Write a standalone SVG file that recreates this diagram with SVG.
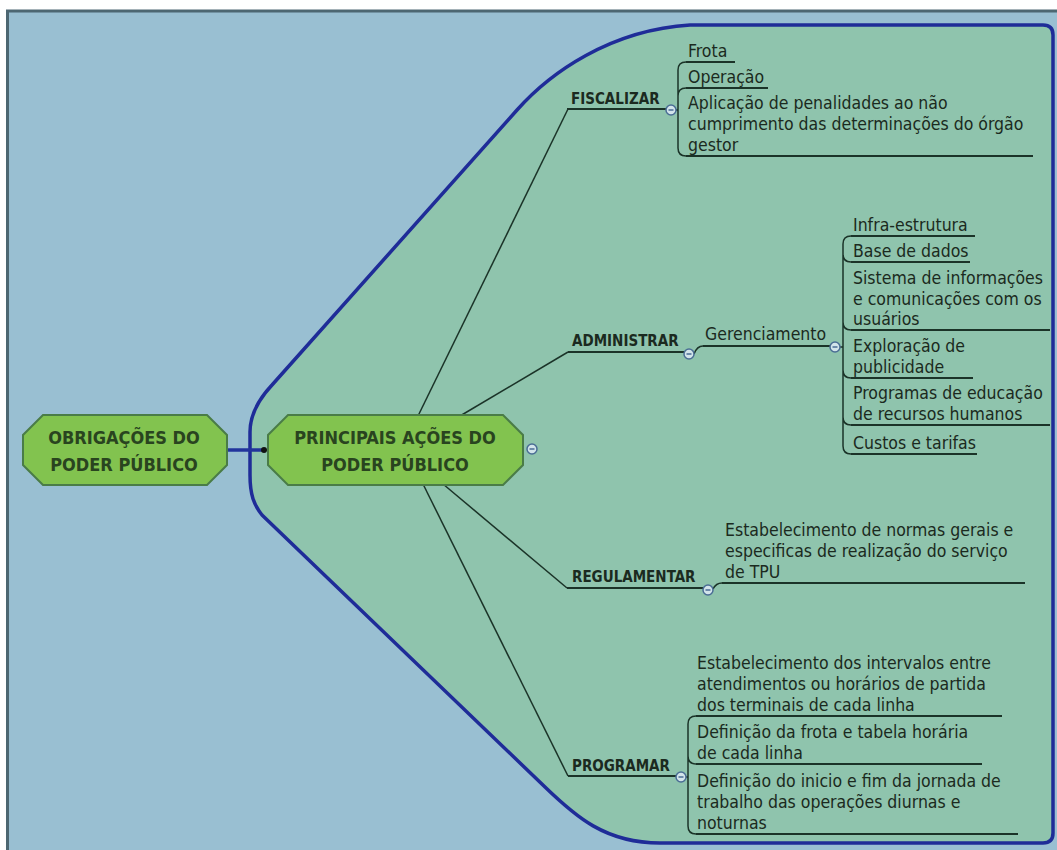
<svg xmlns="http://www.w3.org/2000/svg" width="1057" height="850" viewBox="0 0 1057 850">
<style>
.t{font-family:'DejaVu Sans Condensed','DejaVu Sans',sans-serif;font-size:17.5px;fill:#1b2a20}
.b{font-family:'DejaVu Sans Condensed','DejaVu Sans',sans-serif;font-size:15px;font-weight:bold;fill:#1b2a20}
.n{font-family:'DejaVu Sans Condensed','DejaVu Sans',sans-serif;font-size:18px;font-weight:bold;fill:#29441f;text-anchor:middle}
.ln{fill:none;stroke:#1b3328;stroke-width:1.5}
.ul{fill:none;stroke:#1b3328;stroke-width:2}
.node{fill:#82c34f;stroke:#4a7c47;stroke-width:2}
.cir{fill:#d2e4ea;stroke:#4a6d94;stroke-width:1.5}
.mn{stroke:#4a6d94;stroke-width:1.5}
</style>
<defs>
<g id="minus"><circle class="cir" r="5"/><line class="mn" x1="-2.5" y1="0" x2="2.5" y2="0"/></g>
</defs>
<rect x="0" y="0" width="1057" height="850" fill="#ffffff"/>
<rect x="8" y="12" width="1049" height="838" fill="#99bfd2"/>
<line x1="6" y1="11" x2="1057" y2="11" stroke="#4d6772" stroke-width="3"/>
<line x1="7.5" y1="11" x2="7.5" y2="850" stroke="#4d6772" stroke-width="3"/>
<path id="boundary" d="M1043,25 Q1053,25 1053,35 V833 Q1053,843 1043,843 H660 C605,843 575,816 545,787 L262,515 C254,505 250,495 250,475 V432 C250,415 258,400 272,385 L517,110 C550,73 610,30 690,25 Z" fill="#8fc4ad" stroke="#1f2c98" stroke-width="3.5" stroke-linejoin="round"/>
<g id="connectors">
<line class="ln" x1="418" y1="416" x2="568" y2="109"/>
<line class="ln" x1="460" y1="416" x2="568" y2="352"/>
<line class="ln" x1="443" y1="484" x2="567" y2="588"/>
<line class="ln" x1="423" y1="484" x2="568" y2="776"/>
<line x1="227" y1="450" x2="263" y2="450" stroke="#22349c" stroke-width="3.5"/>
<circle cx="264" cy="450" r="3" fill="#111"/>
<path class="ln" d="M676,110 H678 M686,62 Q678,62 678,70 V148 Q678,156 686,156 M678,96 Q678,88 686,88"/>
<path class="ln" d="M694,354 Q697,346 703,346"/>
<path class="ln" d="M840,347 H843 M851,236 Q843,236 843,244 V446 Q843,454 851,454 M843,254 Q843,262 851,262 M843,322 Q843,330 851,330 M843,370 Q843,378 851,378 M843,417 Q843,425 851,425"/>
<path class="ln" d="M713,589 Q716,583 722,583"/>
<path class="ln" d="M686,777 H688 M696,716 Q688,716 688,724 V826 Q688,834 696,834 M688,756 Q688,764 696,764"/>
</g>
<g id="n-obrigacoes">
<polygon class="node" points="43,415 207,415 227,435 227,465 207,485 43,485 23,465 23,435"/>
<text class="n" x="124" y="444">OBRIGAÇÕES DO</text>
<text class="n" x="124" y="471">PODER PÚBLICO</text>
</g>
<g id="n-principais">
<polygon class="node" points="288,415 503,415 523,435 523,465 503,485 288,485 268,465 268,435"/>
<text class="n" x="395" y="444">PRINCIPAIS AÇÕES DO</text>
<text class="n" x="395" y="471">PODER PÚBLICO</text>
<use href="#minus" x="532" y="449"/>
</g>
<g id="n-fiscalizar">
<text class="b" x="571" y="104">FISCALIZAR</text>
<line class="ul" x1="567" y1="109" x2="666" y2="109"/>
<use href="#minus" x="671" y="110"/>
</g>
<g id="n-frota"><text class="t" x="688" y="57">Frota</text><line class="ul" x1="686" y1="62" x2="735" y2="62"/></g>
<g id="n-operacao"><text class="t" x="688" y="83">Operação</text><line class="ul" x1="686" y1="88" x2="768" y2="88"/></g>
<g id="n-aplicacao">
<text class="t" x="688" y="109">Aplicação de penalidades ao não</text>
<text class="t" x="688" y="130">cumprimento das determinações do órgão</text>
<text class="t" x="688" y="151">gestor</text>
<line class="ul" x1="686" y1="156" x2="1033" y2="156"/>
</g>
<g id="n-administrar">
<text class="b" x="572" y="346">ADMINISTRAR</text>
<line class="ul" x1="568" y1="352" x2="684" y2="352"/>
<use href="#minus" x="689" y="354"/>
</g>
<g id="n-gerenciamento">
<text class="t" x="705" y="340">Gerenciamento</text>
<line class="ul" x1="703" y1="346" x2="830" y2="346"/>
<use href="#minus" x="835" y="347"/>
</g>
<g id="n-infra"><text class="t" x="853" y="231">Infra-estrutura</text><line class="ul" x1="851" y1="236" x2="975" y2="236"/></g>
<g id="n-base"><text class="t" x="853" y="257">Base de dados</text><line class="ul" x1="851" y1="262" x2="970" y2="262"/></g>
<g id="n-sistema">
<text class="t" x="853" y="284">Sistema de informações</text>
<text class="t" x="853" y="305">e comunicações com os</text>
<text class="t" x="853" y="325">usuários</text>
<line class="ul" x1="851" y1="330" x2="1050" y2="330"/>
</g>
<g id="n-exploracao">
<text class="t" x="853" y="352">Exploração de</text>
<text class="t" x="853" y="373">publicidade</text>
<line class="ul" x1="851" y1="378" x2="973" y2="378"/>
</g>
<g id="n-programas">
<text class="t" x="853" y="399">Programas de educação</text>
<text class="t" x="853" y="420">de recursos humanos</text>
<line class="ul" x1="851" y1="425" x2="1050" y2="425"/>
</g>
<g id="n-custos"><text class="t" x="853" y="449">Custos e tarifas</text><line class="ul" x1="851" y1="454" x2="977" y2="454"/></g>
<g id="n-regulamentar">
<text class="b" x="572" y="582">REGULAMENTAR</text>
<line class="ul" x1="567" y1="588" x2="703" y2="588"/>
<use href="#minus" x="708" y="590"/>
</g>
<g id="n-normas">
<text class="t" x="725" y="536">Estabelecimento de normas gerais e</text>
<text class="t" x="725" y="557">especificas de realização do serviço</text>
<text class="t" x="725" y="578">de TPU</text>
<line class="ul" x1="722" y1="583" x2="1025" y2="583"/>
</g>
<g id="n-programar">
<text class="b" x="572" y="771">PROGRAMAR</text>
<line class="ul" x1="568" y1="776" x2="676" y2="776"/>
<use href="#minus" x="681" y="777"/>
</g>
<g id="n-intervalos">
<text class="t" x="697" y="669">Estabelecimento dos intervalos entre</text>
<text class="t" x="697" y="690">atendimentos ou horários de partida</text>
<text class="t" x="697" y="711">dos terminais de cada linha</text>
<line class="ul" x1="696" y1="716" x2="1002" y2="716"/>
</g>
<g id="n-frota-tabela">
<text class="t" x="697" y="738">Definição da frota e tabela horária</text>
<text class="t" x="697" y="759">de cada linha</text>
<line class="ul" x1="696" y1="764" x2="982" y2="764"/>
</g>
<g id="n-jornada">
<text class="t" x="697" y="787">Definição do inicio e fim da jornada de</text>
<text class="t" x="697" y="808">trabalho das operações diurnas e</text>
<text class="t" x="697" y="829">noturnas</text>
<line class="ul" x1="696" y1="834" x2="1018" y2="834"/>
</g>
</svg>
